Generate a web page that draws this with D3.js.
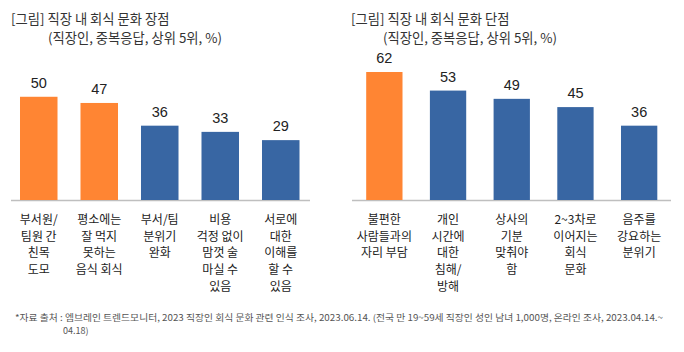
<!DOCTYPE html>
<html>
<head>
<meta charset="utf-8">
<script src="https://cdn.jsdelivr.net/npm/d3@7"></script>
<style>
  body { margin: 0; background: #fff; }
  svg { display: block; font-family: "Noto Sans CJK KR", "Noto Sans", sans-serif; }
</style>
</head>
<body>
<div id="container"></div>
<script>
const width = 684;
const height = 352;

// left chart: merits
const meritLabels = [
  ["부서원/", "팀원 간", "친목", "도모"],
  ["평소에는", "잘 먹지", "못하는", "음식 회식"],
  ["부서/팀", "분위기", "완화"],
  ["비용", "걱정 없이", "맘껏 술", "마실 수", "있음"],
  ["서로에", "대한", "이해를", "할 수", "있음"]
];
const meritValues = [50, 47, 36, 33, 29];
const meritHighlight = [true, true, false, false, false];

// right chart: drawbacks
const drawbackLabels = [
  ["불편한", "사람들과의", "자리 부담"],
  ["개인", "시간에", "대한", "침해/", "방해"],
  ["상사의", "기분", "맞춰야", "함"],
  ["2~3차로", "이어지는", "회식", "문화"],
  ["음주를", "강요하는", "분위기"]
];
const drawbackValues = [62, 53, 49, 45, 36];
const drawbackHighlight = [true, false, false, false, false];

const orange = "#FF8533";
const blue = "#3866A3";

const svg = d3.select("#container")
  .append("svg")
  .attr("width", width)
  .attr("height", height);

const baseY = 200;
const y = d3.scaleLinear().domain([0, 62]).range([baseY, baseY - 128]);

function drawChart(opts) {
  const g = svg.append("g");

  g.append("text")
    .attr("x", opts.titleX)
    .attr("y", 24)
    .attr("fill", "#333")
    .style("font-size", "13.3px")
    .text(opts.title);

  g.append("text")
    .attr("x", opts.subX)
    .attr("y", 43)
    .attr("fill", "#333")
    .style("font-size", "13.3px")
    .text("(직장인, 중복응답, 상위 5위, %)");

  const x = d3.scaleBand()
    .domain(d3.range(opts.values.length))
    .range(opts.range)
    .paddingInner(opts.pad)
    .paddingOuter(opts.pad / 2);

  g.append("line")
    .attr("x1", opts.axis[0])
    .attr("x2", opts.axis[1])
    .attr("y1", baseY + 0.5)
    .attr("y2", baseY + 0.5)
    .attr("stroke", "#BFBFBF")
    .attr("stroke-width", 1.5);

  const bars = g.selectAll("g.bar")
    .data(opts.values)
    .enter()
    .append("g")
    .attr("class", "bar");

  bars.append("rect")
    .attr("x", (d, i) => x(i))
    .attr("y", d => y(d))
    .attr("width", x.bandwidth())
    .attr("height", d => baseY - y(d))
    .attr("fill", (d, i) => opts.highlight[i] ? orange : blue);

  bars.append("text")
    .attr("x", (d, i) => x(i) + x.bandwidth() / 2)
    .attr("y", d => y(d) - 9)
    .attr("text-anchor", "middle")
    .attr("fill", "#222")
    .style("font-family", "'Liberation Sans', Arial, sans-serif")
    .style("font-size", "14.5px")
    .text(d => d);

  bars.each(function (d, i) {
    const t = d3.select(this).append("text")
      .attr("text-anchor", "middle")
      .attr("fill", "#222")
      .style("font-size", "12px");
    opts.labels[i].forEach((line, j) => {
      t.append("tspan")
        .attr("x", x(i) + x.bandwidth() / 2)
        .attr("y", 224 + j * 16.7)
        .text(line);
    });
  });
}

drawChart({
  title: "[그림] 직장 내 회식 문화 장점",
  titleX: 11, subX: 48,
  values: meritValues, labels: meritLabels, highlight: meritHighlight,
  range: [8.5, 311], pad: 0.38, axis: [11, 310]
});

drawChart({
  title: "[그림] 직장 내 회식 문화 단점",
  titleX: 351, subX: 383,
  values: drawbackValues, labels: drawbackLabels, highlight: drawbackHighlight,
  range: [352.5, 671], pad: 0.43, axis: [352, 671]
});

const note = svg.append("text")
  .attr("fill", "#555")
  .style("font-size", "9px");
note.append("tspan")
  .attr("x", 15).attr("y", 321)
  .attr("textLength", 648)
  .attr("lengthAdjust", "spacingAndGlyphs")
  .text("*자료 출처 : 엠브레인 트렌드모니터, 2023 직장인 회식 문화 관련 인식 조사, 2023.06.14. (전국 만 19~59세 직장인 성인 남녀 1,000명, 온라인 조사, 2023.04.14.~");
note.append("tspan")
  .attr("x", 63).attr("y", 334)
  .text("04.18)");
</script>
</body>
</html>
